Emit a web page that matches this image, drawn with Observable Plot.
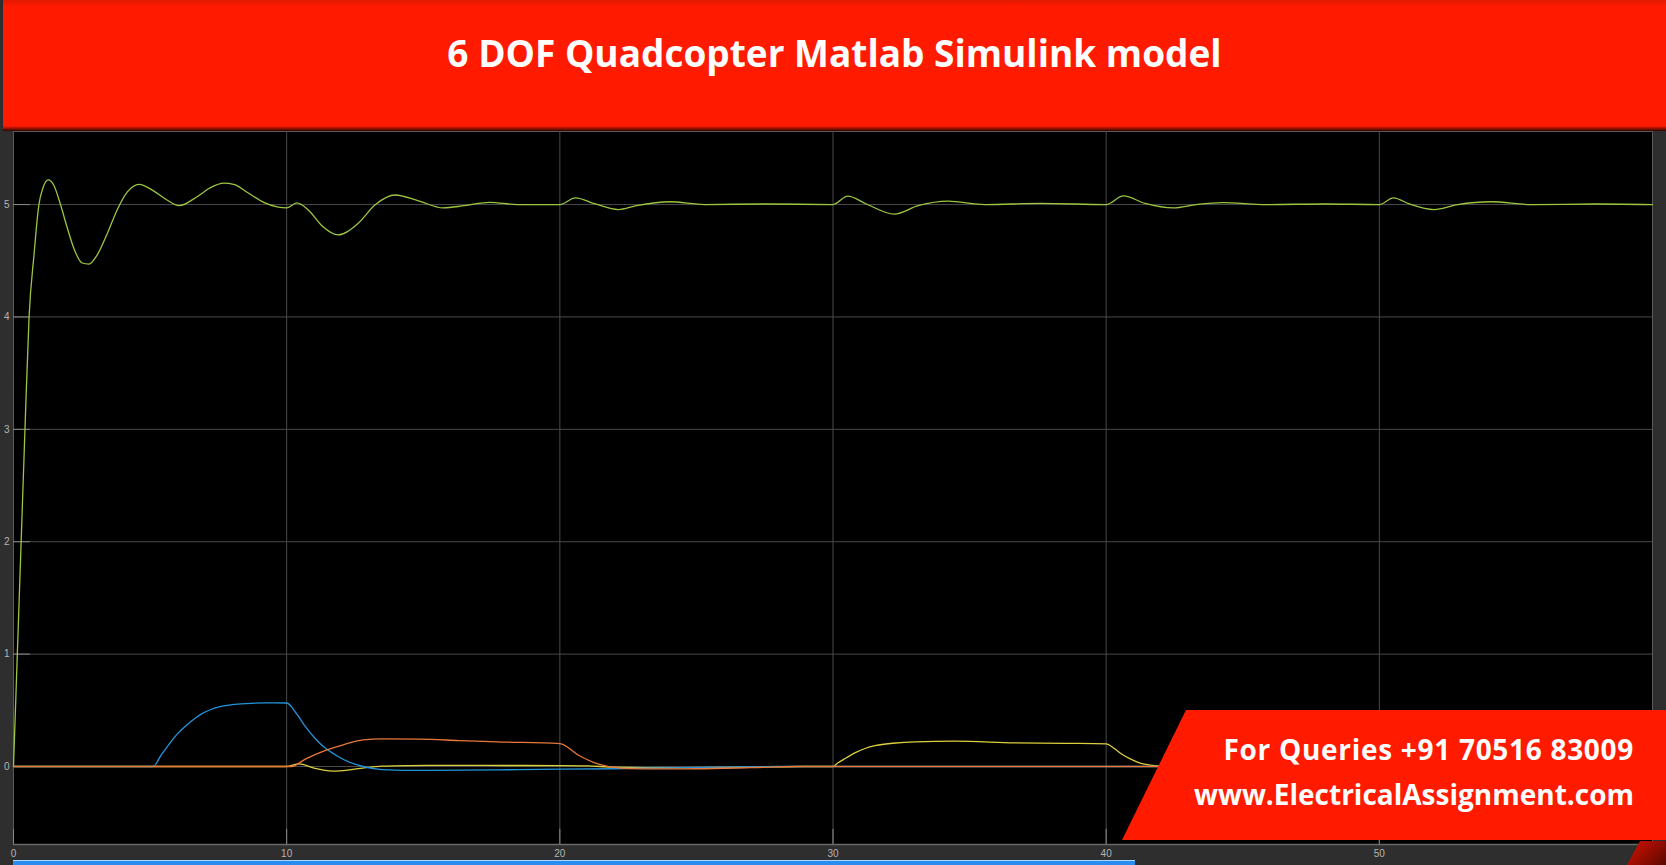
<!DOCTYPE html>
<html>
<head>
<meta charset="utf-8">
<script src="https://cdn.jsdelivr.net/npm/d3@7"></script>
<script src="https://cdn.jsdelivr.net/npm/@observablehq/plot@0.6"></script>
<style>
  body { margin: 0; width: 1666px; height: 865px; overflow: hidden; background: #2e2e2e; position: relative; font-family: "Open Sans", sans-serif; }
  #header { position: absolute; left: 3px; top: 0; width: 1663px; height: 131px;
    background: linear-gradient(#e01a00 0px, #ff1a00 6px, #ff1a00 126px, #2a0600 131px); }
  #title { position: absolute; left: 0; right: 0; top: 34px; text-align: center; color: #fff;
    font-weight: 700; font-size: 37px; line-height: 1; white-space: nowrap; }
  #chart { position: absolute; left: 0; top: 131px; }
  #progress { position: absolute; left: 13px; top: 860px; width: 1122px; height: 5px;
    background: linear-gradient(#a8d6ff 0px, #a8d6ff 1px, #2b8cf0 1px); }
  #banner { position: absolute; left: 1122px; top: 710px; width: 544px; height: 130px; background: #ff1a00;
    clip-path: polygon(64px 0, 100% 0, 100% 100%, 0 100%); color: #fff; font-weight: 700; font-size: 28px; }
  #banner div { position: absolute; right: 32px; line-height: 1; white-space: nowrap; }
  #corner { position: absolute; left: 1627px; top: 841px; width: 39px; height: 24px;
    background: linear-gradient(135deg, #d81200, #5a0800); clip-path: polygon(13px 0, 100% 0, 100% 100%, 0 100%); }
</style>
</head>
<body>
<div id="header"><div id="title">6 DOF Quadcopter Matlab Simulink model</div></div>
<div id="chart"></div>
<div id="progress"></div>
<div id="banner">
  <div style="top:25px; letter-spacing:0.7px">For Queries +91 70516 83009</div>
  <div style="top:70px">www.ElectricalAssignment.com</div>
</div>
<div id="corner"></div>
<script>
// axis ticks
const xTicks = [0, 10, 20, 30, 40, 50];
const yTicks = [0, 1, 2, 3, 4, 5];
const xDomain = [0, 60];
const yDomain = [-0.694, 5.65];

// green (altitude) trace
const greenT = [0, 0.14, 0.28, 0.42, 0.57, 0.75, 0.93, 1.08, 1.27, 1.48, 1.72, 1.96, 2.21, 2.51, 2.76, 3.06, 3.43, 3.79, 4.16, 4.6,
  5.14, 5.62, 6.06, 6.72, 7.21, 7.7, 8.06, 8.55, 9.16, 9.65, 10.0, 10.37, 10.8, 11.3, 11.88, 12.6, 13.25, 13.97, 14.8, 15.73,
  16.5, 17.43, 18.46, 20.0, 20.57, 21.3, 22.14, 22.8, 24.03, 25.3, 27.5, 30.0, 30.54, 31.22, 32.24, 33.12, 34.2, 35.56, 37.6,
  40.0, 40.63, 41.43, 42.45, 43.3, 44.26, 45.85, 48.0, 50.0, 50.52, 51.1, 52.0, 52.87, 54.09, 55.56, 58.0, 60.0];
const greenV = [0, 1, 2, 3, 4, 4.55, 5.0, 5.15, 5.22, 5.17, 5.0, 4.8, 4.61, 4.48, 4.47, 4.55, 4.74, 4.95, 5.11, 5.18,
  5.12, 5.04, 4.99, 5.07, 5.15, 5.19, 5.18, 5.11, 5.02, 4.98, 4.97, 5.015, 4.95, 4.81, 4.73, 4.83, 5.0, 5.085, 5.035, 4.97,
  4.99, 5.02, 5.0, 5.0, 5.06, 5.005, 4.955, 4.99, 5.025, 5.0, 5.005, 5.0, 5.075, 5.005, 4.915, 4.99, 5.03, 5.0, 5.01,
  5.0, 5.077, 5.01, 4.97, 5.0, 5.018, 5.0, 5.005, 5.0, 5.06, 5.005, 4.955, 5.0, 5.025, 5.0, 5.005, 5.0];

// blue trace
const blueT = [0, 5.11, 5.4, 5.7, 6.0, 6.3, 6.6, 6.9, 7.2, 7.6, 8.0, 8.5, 9.2, 10.0, 10.36, 10.7, 11.06, 11.4, 11.76, 12.1,
  12.8, 13.5, 14.9, 17.7, 20, 22, 24, 26, 28, 60];
const blueV = [0, 0, 0.1, 0.2, 0.29, 0.36, 0.42, 0.47, 0.505, 0.535, 0.55, 0.56, 0.566, 0.565, 0.47, 0.35, 0.245, 0.166, 0.107, 0.06,
  0, -0.027, -0.035, -0.03, -0.024, -0.02, -0.012, -0.005, 0, 0];

// orange trace
const orangeT = [0, 10.17, 10.7, 11.4, 12.1, 12.8, 13.5, 14.9, 16.3, 17.7, 20.0, 20.7, 21.45, 22.2, 23, 25, 27, 28.7, 60];
const orangeV = [0, 0, 0.068, 0.142, 0.195, 0.237, 0.245, 0.243, 0.231, 0.219, 0.204, 0.098, 0.018, -0.015, -0.022, -0.02, -0.01, 0, 0];

// yellow trace
const yellowT = [0, 10.0, 10.45, 11.0, 11.7, 12.3, 12.9, 13.5, 14.5, 16, 18, 20, 21, 22, 24, 27, 29, 30.0, 30.15, 30.42, 30.86,
  31.15, 31.58, 32.2, 33.0, 34.46, 36.64, 38.5, 40.0, 40.3, 40.55, 40.9, 41.24, 41.7, 42.2, 60];
const yellowV = [0, 0, 0.024, -0.015, -0.041, -0.03, -0.01, 0.003, 0.008, 0.01, 0.009, 0.008, 0.005, -0.005, -0.01, -0.005, 0, 0, 0.027, 0.068, 0.128,
  0.158, 0.187, 0.207, 0.22, 0.225, 0.211, 0.206, 0.202, 0.16, 0.113, 0.065, 0.03, 0.01, 0, 0];

// draw order: green first, orange last (on top at zero)
const seriesNames = ["green", "yellow", "blue", "orange"];
const seriesColors = ["#9cc540", "#dccf3c", "#2394dc", "#e8793a"];
const seriesData = [[greenT, greenV], [yellowT, yellowV], [blueT, blueV], [orangeT, orangeV]];

function toRows(t, v) {
  return t.map((d, i) => ({t: d, v: v[i]}));
}

window.onload = () => {
  const lines = seriesData.map(([t, v], i) =>
    Plot.line(toRows(t, v), {x: "t", y: "v", stroke: seriesColors[i], strokeWidth: 1.3, curve: "monotone-x"}));

  const plot = Plot.plot({
    width: 1666,
    height: 734,
    marginLeft: 13,
    marginRight: 14,
    marginTop: 0,
    marginBottom: 21,
    style: {background: "#2e2e2e", color: "#b4b4b4", fontSize: "10px", fontFamily: "Liberation Sans, sans-serif"},
    x: {domain: xDomain, label: null},
    y: {domain: yDomain, label: null},
    marks: [
      Plot.frame({fill: "black", stroke: "#5a5a5a"}),
      Plot.ruleY(yTicks, {stroke: "#4a4a4a"}),
      Plot.ruleX(xTicks.slice(1), {stroke: "#4a4a4a"}),
      // short inner tick marks
      Plot.ruleY(yTicks, {x1: 0, x2: 0.62, stroke: "#8a8a8a"}),
      Plot.ruleX(xTicks, {y1: yDomain[0], y2: yDomain[0] + 0.135, stroke: "#8a8a8a"}),
      Plot.ruleY([yDomain[0]], {stroke: "#6a6a6a", strokeWidth: 1.5}),
      ...lines,
      Plot.axisY(yTicks, {tickSize: 0, tickPadding: 4, fill: "#b4b4b4", label: null, tickFormat: d => String(d)}),
      Plot.axisX(xTicks, {tickSize: 0, tickPadding: 5, fill: "#b4b4b4", label: null, tickFormat: d => String(d)})
    ]
  });

  const displayDiv = document.querySelector("#chart");
  displayDiv.innerHTML = "";
  displayDiv.append(plot);
};
</script>
</body>
</html>
